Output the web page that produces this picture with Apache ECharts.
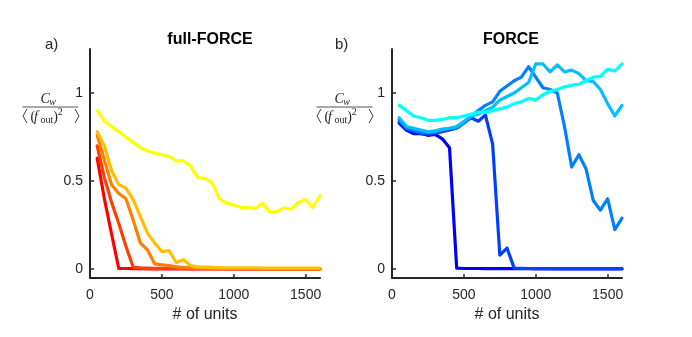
<!DOCTYPE html>
<html>
<head>
<meta charset="utf-8">
<script src="https://cdn.jsdelivr.net/npm/echarts@6/dist/echarts.min.js"></script>
<style>
  html, body { margin: 0; padding: 0; background: #fff; }
  #chart { width: 692px; height: 337px; }
</style>
</head>
<body>
<div id="chart"></div>
<script>
// number of units (x values, shared by both panels)
var units = [50, 100, 150, 200, 250, 300, 350, 400, 450, 500, 550, 600, 650, 700, 750, 800,
  850, 900, 950, 1000, 1050, 1100, 1150, 1200, 1250, 1300, 1350, 1400, 1450, 1500, 1550, 1600];

// a) full-FORCE
var ffRed = [0.63, 0.40, 0.20, 0.005, 0.004, 0.003, 0.003, 0.002,
  0.002, 0.002, 0.002, 0.002, 0.001, 0.001, 0.001, 0.001,
  0.001, 0.001, 0.001, 0.001, 0.001, 0.001, 0.001, 0.001,
  0.001, 0.001, 0.001, 0.001, 0.001, 0.001, 0.001, 0.001];
var ffRedOrange = [0.70, 0.52, 0.38, 0.26, 0.13, 0.012, 0.007, 0.006,
  0.005, 0.005, 0.004, 0.004, 0.004, 0.003, 0.003, 0.003,
  0.003, 0.003, 0.002, 0.002, 0.002, 0.002, 0.002, 0.002,
  0.002, 0.002, 0.002, 0.002, 0.002, 0.002, 0.002, 0.002];
var ffOrange = [0.76, 0.62, 0.48, 0.43, 0.40, 0.28, 0.15, 0.11,
  0.03, 0.025, 0.02, 0.013, 0.01, 0.008, 0.007, 0.006,
  0.005, 0.005, 0.004, 0.004, 0.004, 0.004, 0.004, 0.003,
  0.003, 0.003, 0.003, 0.003, 0.003, 0.003, 0.003, 0.003];
var ffAmber = [0.78, 0.70, 0.56, 0.48, 0.46, 0.395, 0.30, 0.205,
  0.148, 0.10, 0.105, 0.038, 0.053, 0.02, 0.012, 0.012,
  0.01, 0.009, 0.008, 0.008, 0.007, 0.007, 0.007, 0.006,
  0.006, 0.006, 0.006, 0.006, 0.006, 0.006, 0.006, 0.006];
var ffYellow = [0.90, 0.84, 0.81, 0.78, 0.75, 0.72, 0.69, 0.67,
  0.66, 0.65, 0.64, 0.615, 0.615, 0.585, 0.52, 0.515,
  0.49, 0.40, 0.375, 0.365, 0.35, 0.35, 0.345, 0.375,
  0.325, 0.327, 0.348, 0.34, 0.38, 0.395, 0.35, 0.42];

// b) FORCE
var fBlue1 = [0.83, 0.79, 0.77, 0.77, 0.76, 0.765, 0.74, 0.69,
  0.006, 0.004, 0.004, 0.004, 0.003, 0.003, 0.003, 0.003,
  0.003, 0.003, 0.003, 0.002, 0.002, 0.002, 0.002, 0.002,
  0.002, 0.002, 0.002, 0.002, 0.002, 0.002, 0.002, 0.002];
var fBlue2 = [0.84, 0.80, 0.78, 0.77, 0.765, 0.77, 0.78, 0.79,
  0.80, 0.83, 0.86, 0.84, 0.875, 0.71, 0.08, 0.12,
  0.006, 0.005, 0.004, 0.004, 0.004, 0.004, 0.003, 0.003,
  0.003, 0.003, 0.003, 0.003, 0.003, 0.003, 0.003, 0.003];
var fBlue3 = [0.85, 0.80, 0.79, 0.78, 0.775, 0.78, 0.79, 0.80,
  0.80, 0.83, 0.87, 0.90, 0.93, 0.95, 1.01, 1.04,
  1.07, 1.09, 1.15, 1.09, 1.03, 1.02, 1.0, 0.81,
  0.58, 0.65, 0.57, 0.39, 0.335, 0.40, 0.225, 0.29];
var fBlue4 = [0.86, 0.81, 0.80, 0.79, 0.78, 0.785, 0.795, 0.80,
  0.81, 0.84, 0.87, 0.88, 0.90, 0.92, 0.96, 0.98,
  1.0, 1.03, 1.06, 1.165, 1.165, 1.12, 1.16, 1.12,
  1.13, 1.11, 1.07, 1.065, 1.02, 0.94, 0.87, 0.93];
var fCyan = [0.93, 0.90, 0.87, 0.86, 0.845, 0.845, 0.85, 0.86,
  0.86, 0.87, 0.88, 0.89, 0.89, 0.90, 0.91, 0.92,
  0.94, 0.95, 0.97, 0.96, 0.99, 1.01, 1.02, 1.035,
  1.045, 1.05, 1.07, 1.09, 1.095, 1.135, 1.125, 1.165];

var xTicks = [0, 500, 1000, 1500];
var yTicks = [0, 0.5, 1];

var axisColor = '#262626';
var fontMain = 'Liberation Sans, Arial, sans-serif';
var fontMath = 'Liberation Serif, DejaVu Serif, serif';

function pairs(ys) {
  return units.map(function (u, i) { return [u, ys[i]]; });
}

function makeLine(idx, ys, color) {
  return {
    type: 'line',
    xAxisIndex: idx,
    yAxisIndex: idx,
    data: pairs(ys),
    showSymbol: false,
    symbol: 'none',
    animation: false,
    lineStyle: { color: color, width: 3.2, join: 'round', cap: 'round' }
  };
}

function makeX(idx) {
  return {
    type: 'value',
    gridIndex: idx,
    min: 0,
    max: 1600,
    name: '# of units',
    nameLocation: 'middle',
    nameGap: 25,
    nameTextStyle: { color: axisColor, fontSize: 16, fontFamily: fontMain },
    axisLine: { onZero: false, lineStyle: { color: axisColor, width: 2 } },
    axisTick: { inside: true, length: 4, customValues: xTicks, lineStyle: { color: axisColor, width: 1.5 } },
    axisLabel: {
      customValues: xTicks, color: axisColor, fontSize: 14, fontFamily: fontMain, margin: 10,
      formatter: function (v) { return String(v); }
    },
    splitLine: { show: false }
  };
}

function makeY(idx) {
  return {
    type: 'value',
    gridIndex: idx,
    min: -0.05,
    max: 1.25,
    axisLine: { show: true, onZero: false, lineStyle: { color: axisColor, width: 2 } },
    axisTick: { show: true, inside: true, length: 4, customValues: yTicks, lineStyle: { color: axisColor, width: 1.5 } },
    axisLabel: { customValues: yTicks, color: axisColor, fontSize: 14, fontFamily: fontMain, margin: 7 },
    splitLine: { show: false }
  };
}

// one glyph piece of the y label
function glyph(x, y, text, size, italic) {
  return {
    type: 'text', x: x, y: y, silent: true,
    style: {
      text: text, fill: axisColor, fontFamily: fontMath, fontSize: size,
      fontStyle: italic ? 'italic' : 'normal',
      align: 'left', verticalAlign: 'middle',
      textAlign: 'left', textVerticalAlign: 'middle'
    }
  };
}

// fraction label C_w / <(f_out)^2>, centred on cx
function fraction(cx) {
  var stroke = { stroke: axisColor, lineWidth: 0.9, fill: null };
  return [
    glyph(cx - 10, 99.5, 'C', 14, true),
    glyph(cx - 1.2, 102.5, 'w', 10, true),
    { type: 'line', silent: true,
      shape: { x1: cx - 28, y1: 107, x2: cx + 28, y2: 107 },
      style: { stroke: axisColor, lineWidth: 0.8 } },
    { type: 'polyline', silent: true,
      shape: { points: [[cx - 23.5, 109], [cx - 27.5, 116], [cx - 23.5, 123]] }, style: stroke },
    glyph(cx - 20, 117, '(', 14, false),
    glyph(cx - 16.5, 117, 'f', 14, true),
    glyph(cx - 10, 120, 'out', 10, false),
    glyph(cx + 2.8, 117, ')', 14, false),
    glyph(cx + 7.2, 112.5, '2', 10, false),
    { type: 'polyline', silent: true,
      shape: { points: [[cx + 24.5, 109], [cx + 28.5, 116], [cx + 24.5, 123]] }, style: stroke }
  ];
}

var chart = echarts.init(document.getElementById('chart'), null, { renderer: 'canvas' });

var option = {
  animation: false,
  backgroundColor: '#fff',
  title: [
    { text: 'full-FORCE', left: 205, top: 27, textAlign: 'center',
      textStyle: { fontSize: 16, fontWeight: 'bold', color: '#000', fontFamily: fontMain } },
    { text: 'FORCE', left: 506, top: 27, textAlign: 'center',
      textStyle: { fontSize: 16, fontWeight: 'bold', color: '#000', fontFamily: fontMain } }
  ],
  grid: [
    { left: 90, right: 372, top: 49, bottom: 59 },
    { left: 392, right: 70, top: 49, bottom: 59 }
  ],
  xAxis: [makeX(0), makeX(1)],
  yAxis: [makeY(0), makeY(1)],
  series: [
    makeLine(0, ffRed, '#ff0000'),
    makeLine(0, ffRedOrange, '#ff4000'),
    makeLine(0, ffOrange, '#ff8000'),
    makeLine(0, ffAmber, '#ffbf00'),
    makeLine(0, ffYellow, '#ffff00'),
    makeLine(1, fBlue1, '#0000ff'),
    makeLine(1, fBlue2, '#0040ff'),
    makeLine(1, fBlue3, '#0080ff'),
    makeLine(1, fBlue4, '#00bfff'),
    makeLine(1, fCyan, '#00ffff')
  ],
  graphic: [
    glyph(45, 45, 'a)', 15, false),
    glyph(335, 45, 'b)', 15, false)
  ].concat(fraction(50.5)).concat(fraction(344.5))
};
// a) / b) use the sans font
option.graphic[0].style.fontFamily = fontMain;
option.graphic[1].style.fontFamily = fontMain;

chart.setOption(option);
</script>
</body>
</html>
